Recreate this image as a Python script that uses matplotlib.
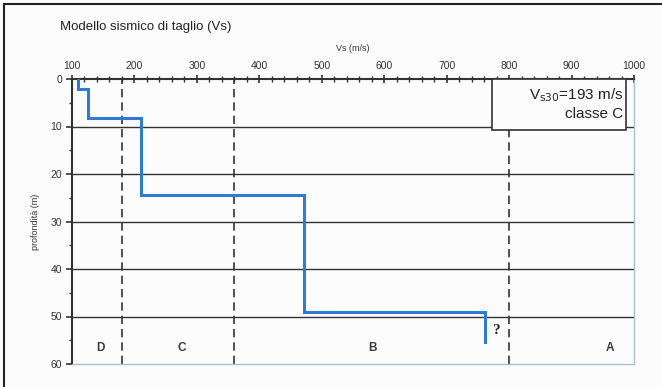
import matplotlib
matplotlib.use("Agg")
import matplotlib.pyplot as plt
from matplotlib.lines import Line2D
from matplotlib.ticker import MultipleLocator

plt.rcParams['font.family'] = ['Liberation Sans', 'DejaVu Sans']

# Step profile: velocity of each layer and its top/bottom depth
layer_vs = [110, 125, 211, 471, 761]
layer_top = [0, 2.2, 8.2, 24.5, 49.1]
layer_bot = [2.2, 8.2, 24.5, 49.1, 55.3]

class_bounds = [180, 360, 800]
class_labels = ['D', 'C', 'B', 'A']
class_label_x = [145, 275, 582, 962]
class_label_y = 56.6

hgrid = [10, 20, 30, 40, 50]

fig = plt.figure(figsize=(6.62, 3.87), dpi=100)
fig.patch.set_facecolor('#fcfcfc')
ax = fig.add_axes([72/662, 1-364/387, (634-72)/662, (364-79)/387])
ax.set_facecolor('#fcfcfc')

ax.set_xlim(100, 1000)
ax.set_ylim(60, 0)

# horizontal grid lines
for h in hgrid:
    ax.axhline(h, color='#333333', lw=1.0, zorder=1)

# class boundaries
for b in class_bounds:
    ax.axvline(b, color='#333333', lw=1.2, ls=(0, (5, 3)), zorder=1)

# profile
xs, ys = [], []
for v, t, bt in zip(layer_vs, layer_top, layer_bot):
    xs += [v, v]
    ys += [t, bt]
ax.plot(xs, ys, color='#2c7bd4', lw=2.2, zorder=3, solid_joinstyle='miter')

for lab, x in zip(class_labels, class_label_x):
    ax.text(x, class_label_y, lab, ha='center', va='center', fontsize=8.5,
            fontweight='bold', color='#3a3a3a')
ax.text(779, 53.0, '?', ha='center', va='center', fontsize=11, fontweight='bold',
        family=['Liberation Serif', 'DejaVu Serif'], color='#222222')

ax.text(983, 1.6, r'V$_{\mathrm{s30}}$=193 m/s' + '\nclasse C', ha='right', va='top',
        fontsize=11, color='#222222', linespacing=1.2, zorder=5)
ax.add_patch(plt.Rectangle((773, 0.1), 214, 10.6, fc='#fcfcfc', ec='#333333', lw=1.2, zorder=4))

# axes styling
ax.xaxis.set_ticks_position('top')
ax.xaxis.set_label_position('top')
ax.xaxis.set_major_locator(MultipleLocator(100))
ax.xaxis.set_minor_locator(MultipleLocator(20))
ax.yaxis.set_major_locator(MultipleLocator(10))
ax.yaxis.set_minor_locator(MultipleLocator(5))
ax.tick_params(axis='x', which='major', direction='inout', length=6, width=1.2, labelsize=7.5,
               colors='#333333', pad=3)
ax.tick_params(axis='x', which='minor', direction='inout', length=4, width=1, colors='#333333')
ax.tick_params(axis='y', which='major', direction='out', length=4, width=1.2, labelsize=7.5,
               colors='#333333', pad=3)
ax.tick_params(axis='y', which='minor', direction='out', length=2, width=1, colors='#333333')
ax.set_xlabel('Vs (m/s)', fontsize=6.5, color='#333333', labelpad=7)
ax.set_ylabel('profondità (m)', fontsize=6.5, color='#333333', labelpad=8)

for s in ['top', 'left']:
    ax.spines[s].set_color('#333333')
    ax.spines[s].set_linewidth(1.5)
for s in ['right', 'bottom']:
    ax.spines[s].set_color('#a9bfd0')
    ax.spines[s].set_linewidth(1.0)

fig.text(60/662, 1-27/387, 'Modello sismico di taglio (Vs)', fontsize=9.5, color='#222222',
         va='center', ha='left')

# outer frame (top and left)
fig.add_artist(Line2D([4/662, 4/662], [0, 1-4/387], color='#222222', lw=1.5, transform=fig.transFigure))
fig.add_artist(Line2D([4/662, 1], [1-4/387, 1-4/387], color='#222222', lw=1.5, transform=fig.transFigure))

fig.savefig('out.png', dpi=100, facecolor=fig.get_facecolor())
